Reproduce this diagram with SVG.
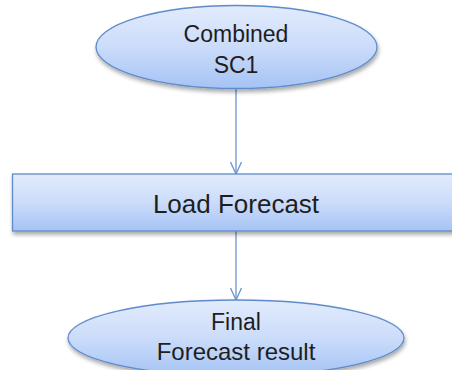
<svg xmlns="http://www.w3.org/2000/svg" width="452" height="370" viewBox="0 0 452 370">
<defs>
<linearGradient id="g" x1="0" y1="0" x2="0" y2="1">
<stop offset="0" stop-color="#e2ebfc"/>
<stop offset="0.5" stop-color="#cbdcfa"/>
<stop offset="1" stop-color="#a5c3f5"/>
</linearGradient>
<filter id="sh" x="-10%" y="-20%" width="120%" height="150%">
<feGaussianBlur in="SourceAlpha" stdDeviation="2"/>
<feOffset dx="1" dy="3" result="b"/>
<feComponentTransfer><feFuncA type="linear" slope="0.35"/></feComponentTransfer>
<feMerge><feMergeNode/><feMergeNode in="SourceGraphic"/></feMerge>
</filter>
<marker id="arr" markerWidth="14" markerHeight="14" refX="13" refY="7" orient="auto" markerUnits="userSpaceOnUse">
<path d="M1 1.5 L13 7 L1 12.5" fill="none" stroke="#6a93cf" stroke-width="1.3"/>
</marker>
</defs>
<style>
.shape{fill:url(#g);stroke:#5f8bcb;stroke-width:1.3;filter:url(#sh)}
.t{font-family:"Liberation Sans",Arial,sans-serif;fill:#1e1e1e;text-anchor:middle}
.c{stroke:#6a93cf;stroke-width:1.3;fill:none}
</style>
<rect width="452" height="370" fill="#ffffff"/>
<g id="connectors">
<line class="c" x1="236" y1="88" x2="236" y2="174" marker-end="url(#arr)"/>
<line class="c" x1="236" y1="231" x2="236" y2="300" marker-end="url(#arr)"/>
</g>
<g id="combined-sc1">
<ellipse class="shape" cx="236.5" cy="47" rx="140.5" ry="41.5"/>
<text class="t" x="236" y="42" font-size="23">Combined</text>
<text class="t" x="236" y="73" font-size="23">SC1</text>
</g>
<g id="load-forecast">
<rect class="shape" x="12.5" y="174" width="445" height="57"/>
<text class="t" x="236" y="213" font-size="26">Load Forecast</text>
</g>
<g id="final-forecast-result">
<ellipse class="shape" cx="236" cy="338" rx="168" ry="38"/>
<text class="t" x="236" y="330" font-size="23">Final</text>
<text class="t" x="236" y="360" font-size="24">Forecast result</text>
</g>
</svg>
